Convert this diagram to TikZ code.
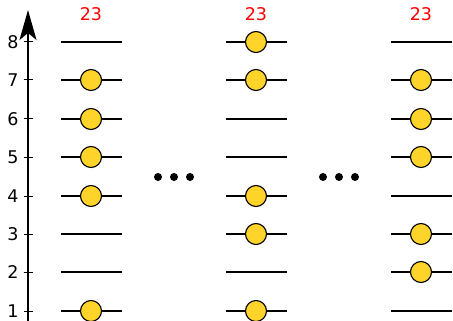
\documentclass[tikz,border=0pt]{standalone}
\usepackage{fontspec}
\setmainfont{DejaVu Sans}
\usetikzlibrary{arrows.meta}
\definecolor{ballyellow}{RGB}{255,212,42}
\definecolor{numred}{RGB}{255,0,0}
\tikzset{
  level/.style={line width=2pt},
  ball/.style={circle, draw=black, line width=1.1pt, fill=ballyellow, minimum size=21pt, inner sep=0pt},
  dotn/.style={circle, fill=black, minimum size=8pt, inner sep=0pt},
  toplabel/.style={text=numred, font=\fontsize{17.5}{19}\selectfont},
  axlabel/.style={font=\fontsize{17.5}{19}\selectfont},
}
\begin{document}
\begin{tikzpicture}[x=1pt,y=-1pt]
\useasboundingbox (0,0) rectangle (453,321);
% axis
\coordinate (axb) at (28,330);
\coordinate (axt) at (28,10);
\draw[line width=1.4pt, -{Stealth[length=30pt,width=17pt,inset=7pt]}] (axb) -- (axt);
\foreach \i/\yy in {8/42,7/80,6/119,5/157,4/196,3/234,2/272,1/311}{
  \coordinate (tl\i) at (23.5,\yy);
  \coordinate (tr\i) at (33,\yy);
  \draw[line width=1pt] (tl\i) -- (tr\i);
  \node[axlabel, inner sep=0pt] (lab\i) at (13,\yy) {\i};
}
% columns
\foreach \c/\cx/\balls in {1/91/{7,6,5,4,1}, 2/256/{8,7,4,3,1}, 3/421/{7,6,5,3,2}}{
  \node[toplabel, inner sep=0pt] (top\c) at (\cx,14.5) {23};
  \foreach \i/\yy in {8/42,7/80,6/119,5/157,4/196,3/234,2/272,1/311}{
    \coordinate (l\c\i) at (\cx-30,\yy);
    \coordinate (r\c\i) at (\cx+31,\yy);
    \draw[level] (l\c\i) -- (r\c\i);
  }
  \foreach \b in \balls {
    \node[ball] (b\c\b) at (l\c\b -| \cx,0) {};
  }
}
% dots
\foreach \k/\dx in {1/158,2/174,3/190,4/323,5/339,6/355}{
  \node[dotn] (d\k) at (\dx,177) {};
}
\end{tikzpicture}
\end{document}
